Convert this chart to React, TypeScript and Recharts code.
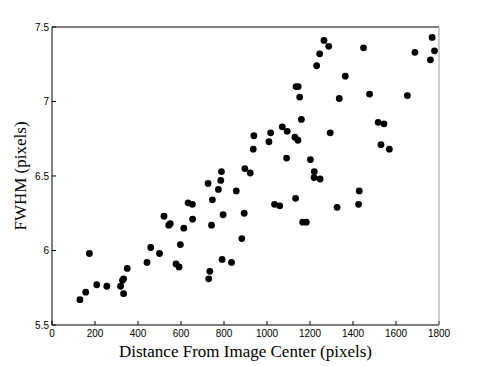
import { ScatterChart, Scatter, XAxis, YAxis } from "recharts";

// distance from image center (pixels) vs FWHM (pixels)
const distance = [
  130, 157, 174, 208, 255, 319, 328, 333, 333, 350, 442, 459, 500, 521, 543, 550, 577, 591, 597, 613,
  633, 653, 654, 726, 729, 734, 742, 746, 774, 785, 788, 791, 796, 835, 857, 883, 894, 897, 922, 936,
  939, 1009, 1017, 1035, 1059, 1071, 1091, 1094, 1130, 1133, 1135, 1145, 1144, 1152, 1160, 1166, 1183,
  1202, 1219, 1220, 1231, 1245, 1247, 1265, 1287, 1294, 1326, 1336, 1364, 1426, 1429, 1449, 1477,
  1517, 1530, 1544, 1569, 1653, 1688, 1760, 1768, 1779,
];
const fwhm = [
  5.67, 5.72, 5.98, 5.77, 5.76, 5.76, 5.8, 5.81, 5.71, 5.88, 5.92, 6.02, 5.98, 6.23, 6.17, 6.18, 5.91, 5.89, 6.04, 6.15,
  6.32, 6.31, 6.21, 6.45, 5.81, 5.86, 6.17, 6.34, 6.41, 6.47, 6.53, 5.94, 6.24, 5.92, 6.4, 6.08, 6.25, 6.55, 6.52, 6.68,
  6.77, 6.73, 6.79, 6.31, 6.3, 6.83, 6.62, 6.8, 6.76, 6.35, 7.1, 7.1, 6.74, 7.03, 6.88, 6.19, 6.19,
  6.61, 6.49, 6.53, 7.24, 7.32, 6.48, 7.41, 7.37, 6.79, 6.29, 7.02, 7.17, 6.31, 6.4, 7.36, 7.05,
  6.86, 6.71, 6.85, 6.68, 7.04, 7.33, 7.28, 7.43, 7.34,
];

const xTicks = [0, 200, 400, 600, 800, 1000, 1200, 1400, 1600, 1800];
const yTicks = [5.5, 6, 6.5, 7, 7.5];

const points = distance.map((d, i) => ({ d, w: fwhm[i] }));

const tickFont = { fontSize: 10, fill: "#000", fontFamily: "Liberation Sans, Arial, sans-serif" };
const labelFont = { fontSize: 17, fill: "#000", fontFamily: "Liberation Serif, Times New Roman, serif" };

const Dot = (props: any) => <circle cx={props.cx} cy={props.cy} r={3.4} fill="#000" />;
const NoDot = () => <g />;

export default function App() {
  return (
    <div style={{ position: "absolute", left: 0, top: 0, background: "#fff" }}>
      <ScatterChart width={485} height={366} margin={{ top: 26, right: 45, bottom: 0, left: 0 }}>
        <XAxis
          type="number"
          dataKey="d"
          domain={[0, 1800]}
          ticks={xTicks}
          interval={0}
          height={41}
          tick={tickFont}
          tickSize={-4}
          tickMargin={9}
          axisLine={{ stroke: "#000" }}
          tickLine={{ stroke: "#000" }}
          label={{ value: "Distance From Image Center (pixels)", position: "insideBottom", offset: 9, style: labelFont }}
        />
        {/* mirrored axes for the box's top and right edges (1px so they render) */}
        <XAxis
          xAxisId="top"
          orientation="top"
          type="number"
          dataKey="d"
          domain={[0, 1800]}
          ticks={xTicks}
          interval={0}
          height={1}
          tick={false}
          tickSize={-4}
          axisLine={{ stroke: "#000" }}
          tickLine={{ stroke: "#000" }}
        />
        <YAxis
          type="number"
          dataKey="w"
          domain={[5.5, 7.5]}
          ticks={yTicks}
          interval={0}
          width={52}
          tick={tickFont}
          tickSize={-4}
          tickMargin={7}
          axisLine={{ stroke: "#000" }}
          tickLine={{ stroke: "#000" }}
          label={{ value: "FWHM (pixels)", angle: -90, position: "insideLeft", offset: 20, style: { ...labelFont, textAnchor: "middle" } }}
        />
        <YAxis
          yAxisId="right"
          orientation="right"
          type="number"
          dataKey="w"
          domain={[5.5, 7.5]}
          ticks={yTicks}
          interval={0}
          width={1}
          tick={false}
          tickSize={-4}
          axisLine={{ stroke: "#999" }}
          tickLine={{ stroke: "#000" }}
        />
        <Scatter data={points} xAxisId="top" yAxisId="right" shape={NoDot} isAnimationActive={false} />
        <Scatter data={points} shape={Dot} isAnimationActive={false} />
      </ScatterChart>
    </div>
  );
}
